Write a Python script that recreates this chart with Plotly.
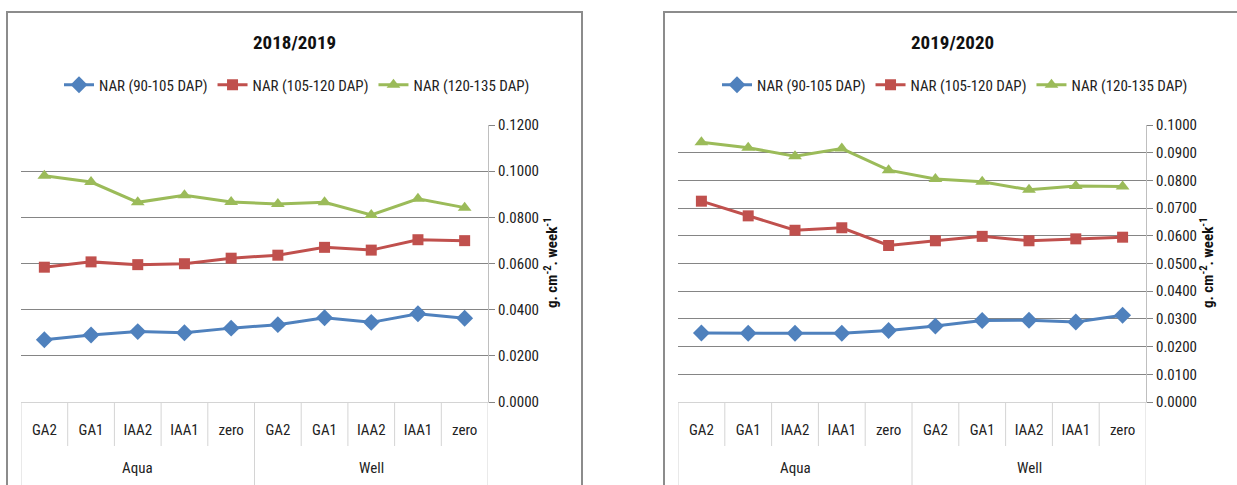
import plotly.graph_objects as go

# Treatments along the x axis, grouped by irrigation water source
treatments = ["GA2", "GA1", "IAA2", "IAA1", "zero", "GA2", "GA1", "IAA2", "IAA1", "zero"]
groups = ["Aqua", "Well"]
series_names = ["NAR (90-105 DAP)", "NAR (105-120 DAP)", "NAR (120-135 DAP)"]

# Season 2018/2019 (g. cm-2. week-1)
s1_nar_90_105 = [0.0270, 0.0290, 0.0305, 0.0300, 0.0320, 0.0335, 0.0365, 0.0345, 0.0382, 0.0363]
s1_nar_105_120 = [0.0584, 0.0607, 0.0595, 0.0599, 0.0623, 0.0636, 0.0670, 0.0658, 0.0703, 0.0699]
s1_nar_120_135 = [0.0980, 0.0953, 0.0865, 0.0896, 0.0866, 0.0858, 0.0865, 0.0810, 0.0880, 0.0842]

# Season 2019/2020 (g. cm-2. week-1)
s2_nar_90_105 = [0.0249, 0.0248, 0.0248, 0.0248, 0.0258, 0.0274, 0.0294, 0.0295, 0.0289, 0.0313]
s2_nar_105_120 = [0.0725, 0.0672, 0.0620, 0.0629, 0.0565, 0.0582, 0.0598, 0.0582, 0.0589, 0.0595]
s2_nar_120_135 = [0.0938, 0.0918, 0.0887, 0.0915, 0.0837, 0.0805, 0.0795, 0.0766, 0.0780, 0.0778]

panels = [
    {"title": "2018/2019", "data": [s1_nar_90_105, s1_nar_105_120, s1_nar_120_135],
     "ymax": 0.12, "dtick": 0.02},
    {"title": "2019/2020", "data": [s2_nar_90_105, s2_nar_105_120, s2_nar_120_135],
     "ymax": 0.10, "dtick": 0.01},
]

W, H = 1237, 485
FONT = "Liberation Sans Narrow, Roboto Condensed, Roboto, sans-serif"
colors = ["#4F81BD", "#C0504D", "#9BBB59"]
symbols = ["diamond", "square", "triangle-up"]
msizes = [13, 11, 12]


def px_x(v):
    return v / W


def px_y(v):
    return 1 - v / H


# pixel layout of each panel: frame and plot area
layout_px = [
    {"frame": (7, 582), "plot": (21, 488), "title_x": 294, "ytitle_x": 551, "legend_x": 297},
    {"frame": (664, 1290), "plot": (678, 1146), "title_x": 952, "ytitle_x": 1207, "legend_x": 955},
]
plot_top, plot_bot = 125, 402

fig = go.Figure()
x_idx = list(range(len(treatments)))

shapes = []
annotations = []
for p, (panel, lp) in enumerate(zip(panels, layout_px)):
    xa = "x" if p == 0 else "x2"
    ya = "y" if p == 0 else "y2"
    leg = "legend" if p == 0 else "legend2"
    for k, (name, vals) in enumerate(zip(series_names, panel["data"])):
        fig.add_trace(go.Scatter(
            x=x_idx, y=vals, name=name, mode="lines+markers",
            line=dict(color=colors[k], width=3),
            marker=dict(symbol=symbols[k], size=msizes[k], color=colors[k]),
            xaxis=xa, yaxis=ya, legend=leg,
        ))

    # chart frame
    fx0, fx1 = lp["frame"]
    shapes.append(dict(type="rect", xref="paper", yref="paper",
                       x0=px_x(fx0), x1=px_x(fx1), y0=-0.2, y1=px_y(12),
                       line=dict(color="#8c8c8c", width=2), fillcolor="rgba(0,0,0,0)",
                       layer="below"))

    # category dividers below the plot area
    for i in range(len(treatments) + 1):
        is_group_edge = i in (0, 5, 10)
        y_end = 485 if is_group_edge else 446
        shapes.append(dict(type="line", xref=xa, yref="paper",
                           x0=i - 0.5, x1=i - 0.5, y0=px_y(plot_bot), y1=px_y(y_end),
                           line=dict(color="#d4d4d4", width=1)))

    # group labels
    for g, gname in enumerate(groups):
        annotations.append(dict(text=gname, xref=xa, yref="paper", x=g * 5 + 2,
                                y=px_y(468), showarrow=False, yanchor="middle",
                                font=dict(family=FONT, size=15, color="#222")))

    # panel title
    annotations.append(dict(text="<b>" + panel["title"] + "</b>", xref="paper", yref="paper",
                            x=px_x(lp["title_x"]), y=px_y(42), showarrow=False,
                            xanchor="center", yanchor="middle",
                            font=dict(family=FONT, size=19, color="#111")))
    # y-axis title
    annotations.append(dict(text="<b>g. cm<sup>-2</sup>. week<sup>-1</sup></b>",
                            xref="paper", yref="paper",
                            x=px_x(lp["ytitle_x"]), y=px_y(263), textangle=-90,
                            showarrow=False, xanchor="center", yanchor="middle",
                            font=dict(family=FONT, size=15, color="#111")))

axis_common_x = dict(
    range=[-0.5, 9.5], tickmode="array", tickvals=x_idx, ticktext=treatments,
    showgrid=False, zeroline=False, showline=True, linecolor="#d4d4d4", linewidth=1,
    ticks="", ticklabelstandoff=14, tickfont=dict(family=FONT, size=15, color="#222"),
    fixedrange=True, automargin=False,
)
axis_common_y = dict(
    side="right", tickformat=".4f",
    showgrid=True, gridcolor="#858585", gridwidth=1,
    zeroline=False, showline=True, linecolor="#bfbfbf",
    ticks="outside", ticklen=6, tickcolor="#858585",
    tickfont=dict(family=FONT, size=15, color="#222"),
    automargin=False, fixedrange=True,
)
legend_common = dict(orientation="h", y=px_y(85), xanchor="center", yanchor="middle",
                     itemwidth=30, font=dict(family=FONT, size=15, color="#222"),
                     bgcolor="rgba(0,0,0,0)")

fig.update_layout(
    width=W, height=H,
    margin=dict(l=0, r=0, t=0, b=0, autoexpand=False),
    paper_bgcolor="white", plot_bgcolor="white",
    showlegend=True,
    xaxis=dict(domain=[px_x(21), px_x(488)], anchor="y", **axis_common_x),
    xaxis2=dict(domain=[px_x(678), px_x(1146)], anchor="y2", **axis_common_x),
    yaxis=dict(domain=[px_y(plot_bot), px_y(plot_top)], anchor="x",
               range=[0, panels[0]["ymax"]], dtick=panels[0]["dtick"], **axis_common_y),
    yaxis2=dict(domain=[px_y(plot_bot), px_y(plot_top)], anchor="x2",
                range=[0, panels[1]["ymax"]], dtick=panels[1]["dtick"], **axis_common_y),
    legend=dict(x=px_x(layout_px[0]["legend_x"]), **legend_common),
    legend2=dict(x=px_x(layout_px[1]["legend_x"]), **legend_common),
    shapes=shapes,
    annotations=annotations,
)

fig.write_html("out.html")
